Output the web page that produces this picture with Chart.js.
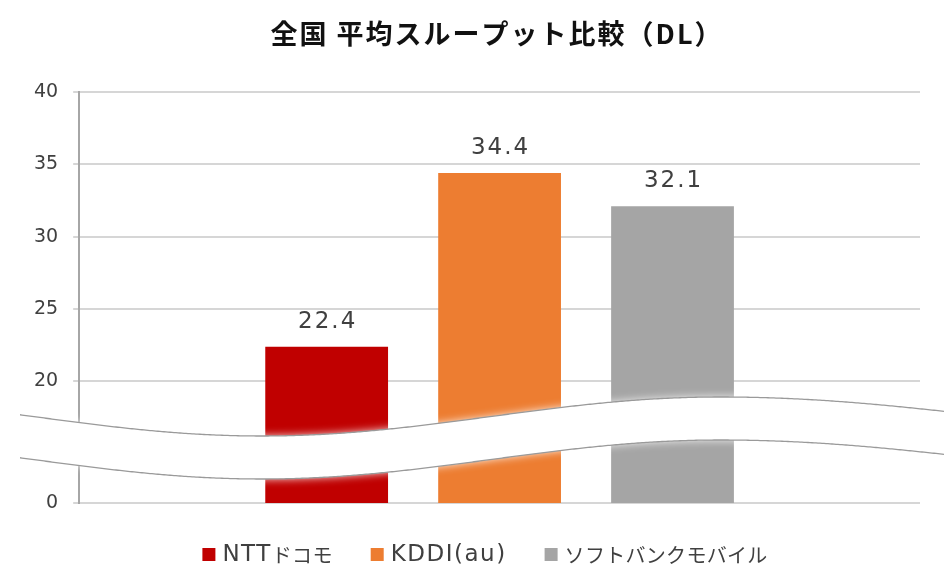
<!DOCTYPE html>
<html>
<head>
<meta charset="utf-8">
<script src="https://cdn.jsdelivr.net/npm/chart.js@4/dist/chart.umd.min.js"></script>
<style>
  html, body { margin: 0; padding: 0; background: #ffffff; }
  #wrap { width: 944px; height: 570px; position: relative; }
</style>
</head>
<body>
<div id="wrap"><canvas id="c" width="944" height="570"></canvas></div>
<script>
// ---- data ----
const chartTitle = '全国 平均スループット比較（DL）';
const categories = ['全国'];
const seriesNames = ['NTTドコモ', 'KDDI(au)', 'ソフトバンクモバイル'];
const docomoValues = [22.4];
const kddiValues = [34.4];
const softbankValues = [32.1];
const tickValues = [20, 25, 30, 35, 40];
const breakFloorLabel = '0';
const seriesColors = ['#c00000', '#ed7d31', '#a5a5a5'];

// axis is broken between 0 and 20: the axis floor stands in for 0
const axisFloor = 11.6;
const axisMax = 40;

const fontLatin = '"DejaVu Sans", "Noto Sans CJK JP", sans-serif';
const fontCJK = '"Noto Sans CJK JP", "DejaVu Sans", sans-serif';
const cjkRe = /[\u3000-\u30ff\u4e00-\u9fff\uff00-\uffef]/;

function splitRuns(text) {
  const runs = [];
  for (const ch of text) {
    const cjk = cjkRe.test(ch);
    if (runs.length && runs[runs.length - 1].cjk === cjk) runs[runs.length - 1].t += ch;
    else runs.push({ t: ch, cjk });
  }
  return runs;
}
function setRunFont(ctx, cjk) {
  ctx.font = cjk ? '20px ' + fontCJK : '23px ' + fontLatin;
  if ('letterSpacing' in ctx) ctx.letterSpacing = cjk ? '0.3px' : '1.5px';
}
function measureMixed(ctx, text) {
  let w = 0;
  for (const r of splitRuns(text)) { setRunFont(ctx, r.cjk); w += ctx.measureText(r.t).width; }
  return w;
}
function drawMixed(ctx, text, x, y) {
  for (const r of splitRuns(text)) {
    setRunFont(ctx, r.cjk);
    ctx.fillText(r.t, x, y);
    x += ctx.measureText(r.t).width;
  }
}

const decorPlugin = {
  id: 'decor',
  afterDatasetsDraw(chart) {
    const ctx = chart.ctx;
    const ca = chart.chartArea;
    const w = chart.width;
    // wavy band (decoration marking the axis break)
    const mid = ca.bottom - 86.5, amp = 19.5, gap = 43;
    const xMin = 262, xPeak = 720;
    const curve = (x) => {
      if (x <= xPeak) return mid + amp * Math.cos(Math.PI * (x - xMin) / (xPeak - xMin));
      return mid - amp * Math.cos(Math.PI * (x - xPeak) / 540);
    };
    const x0 = 20, x1 = w;
    ctx.save();
    ctx.beginPath();
    for (let x = x0; x <= x1; x += 2) {
      const y = curve(x);
      if (x === x0) ctx.moveTo(x, y); else ctx.lineTo(x, y);
    }
    for (let x = x1; x >= x0; x -= 2) ctx.lineTo(x, curve(x) + gap);
    ctx.closePath();
    ctx.fillStyle = '#ffffff';
    ctx.shadowColor = 'rgba(255,255,255,0.9)';
    ctx.shadowBlur = 8;
    ctx.fill();
    ctx.shadowBlur = 0;
    ctx.strokeStyle = '#9a9a9a';
    ctx.lineWidth = 1.3;
    for (const off of [0, gap]) {
      ctx.beginPath();
      for (let x = x0; x <= x1; x += 2) {
        const y = curve(x) + off;
        if (x === x0) ctx.moveTo(x, y); else ctx.lineTo(x, y);
      }
      ctx.stroke();
    }
    // value labels above bars
    ctx.fillStyle = '#404040';
    ctx.font = '23px ' + fontLatin;
    ctx.textAlign = 'center';
    ctx.textBaseline = 'middle';
    if ('letterSpacing' in ctx) ctx.letterSpacing = '2px';
    chart.data.datasets.forEach((ds, i) => {
      const meta = chart.getDatasetMeta(i);
      meta.data.forEach((bar, j) => {
        ctx.fillText(ds.data[j].toFixed(1), bar.x + 1, bar.y - 25);
      });
    });
    ctx.restore();
  },
  afterDraw(chart) {
    const ctx = chart.ctx;
    ctx.save();
    // title
    ctx.fillStyle = '#111111';
    ctx.font = 'bold 27px ' + fontCJK;
    ctx.textAlign = 'center';
    ctx.textBaseline = 'middle';
    if ('letterSpacing' in ctx) ctx.letterSpacing = '2px';
    ctx.fillText(chartTitle, 497, 34);
    // legend
    const box = 13, textGap = 20, itemGap = 38, legendY = 555.5, legendCenter = 485;
    ctx.textAlign = 'left';
    ctx.textBaseline = 'middle';
    const items = chart.data.datasets.map(ds => ({ text: ds.label, color: ds.backgroundColor }));
    const widths = items.map(it => textGap + measureMixed(ctx, it.text));
    const total = widths.reduce((a, b) => a + b, 0) + itemGap * (items.length - 1);
    let x = legendCenter - total / 2;
    items.forEach((it, i) => {
      ctx.fillStyle = it.color;
      ctx.fillRect(x, legendY - box / 2 - 1, box, box);
      ctx.fillStyle = '#404040';
      drawMixed(ctx, it.text, x + textGap, legendY);
      x += widths[i] + itemGap;
    });
    ctx.restore();
  }
};

new Chart(document.getElementById('c'), {
  type: 'bar',
  data: {
    labels: categories,
    datasets: [
      { label: seriesNames[0], data: docomoValues, backgroundColor: seriesColors[0] },
      { label: seriesNames[1], data: kddiValues, backgroundColor: seriesColors[1] },
      { label: seriesNames[2], data: softbankValues, backgroundColor: seriesColors[2] }
    ]
  },
  options: {
    responsive: false,
    animation: false,
    devicePixelRatio: 1,
    categoryPercentage: 0.617,
    barPercentage: 0.71,
    layout: { padding: { left: 19, right: 24, top: 92, bottom: 59 } },
    plugins: {
      title: { display: false },
      legend: { display: false },
      tooltip: { enabled: false }
    },
    scales: {
      x: {
        ticks: { display: false },
        grid: { display: false },
        border: { display: false }
      },
      y: {
        min: axisFloor,
        max: axisMax,
        afterBuildTicks(scale) {
          scale.ticks = [{ value: axisFloor }].concat(tickValues.map(v => ({ value: v })));
        },
        ticks: {
          color: '#404040',
          padding: 15,
          font: { family: fontLatin, size: 19 },
          callback: (v) => (v === axisFloor ? breakFloorLabel : String(v))
        },
        grid: { color: '#d6d6d6', lineWidth: 2, tickLength: 6 },
        border: { color: '#a6a6a6', width: 2 }
      }
    }
  },
  plugins: [decorPlugin]
});
</script>
</body>
</html>
